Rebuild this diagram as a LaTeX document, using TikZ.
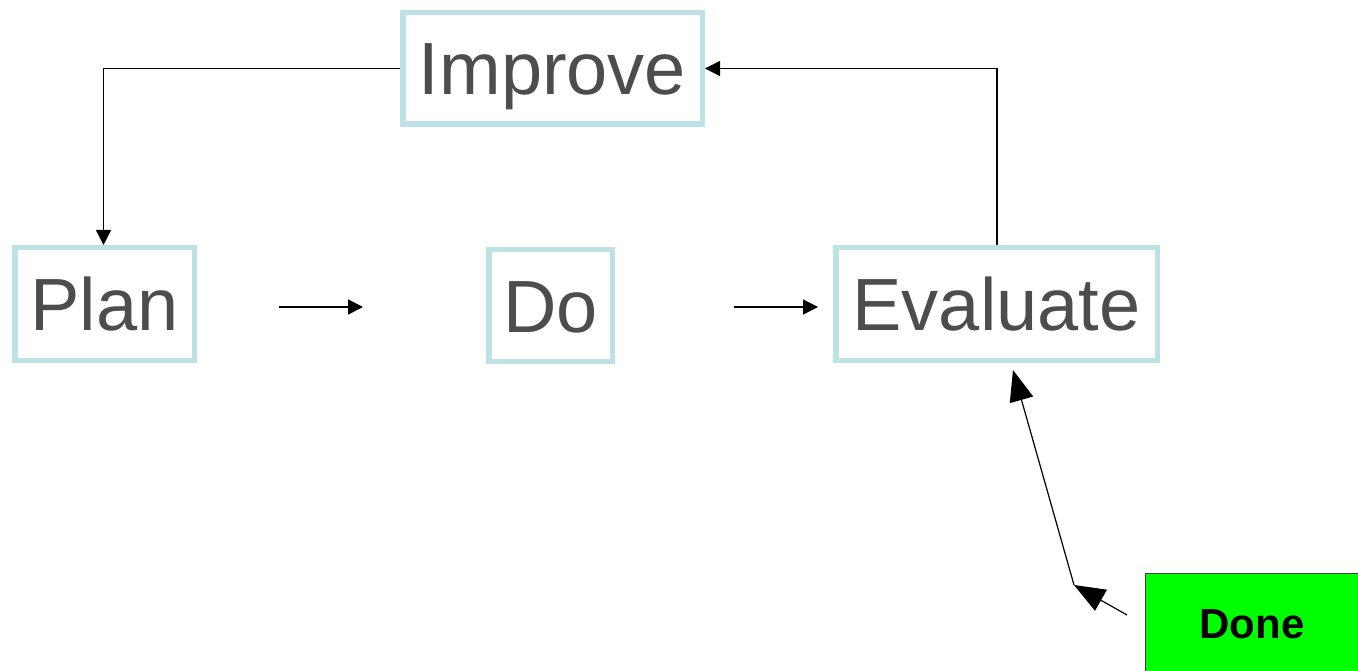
\documentclass[tikz,border=0pt]{standalone}
\usepackage{fontspec}
\setmainfont{Liberation Sans}
\usetikzlibrary{arrows.meta}
\definecolor{boxline}{HTML}{BDE1E4}
\definecolor{labeltext}{HTML}{4D4D4D}
\begin{document}
\begin{tikzpicture}[x=1pt,y=-1pt,
  stage/.style={draw=boxline, line width=5.5pt, fill=white, inner sep=0pt,
    text=labeltext, font=\fontsize{74}{74}\selectfont,
    text height=53pt, text depth=0pt},
  link/.style={line width=1.4pt, -{Triangle[length=15pt,width=15pt]}},
  biglink/.style={line width=1.2pt, -{Triangle[length=31pt,width=24pt]}},
  donebox/.style={draw=black!75, line width=1pt, fill=green, inner sep=0pt,
    font=\bfseries\fontsize{42}{42}\selectfont, text height=30pt, text depth=0pt}]
\useasboundingbox (0,0) rectangle (1358,671);

% the cycle stages
\node[stage, minimum width=299.5pt, minimum height=111.5pt] (improve) at (552.5,68.5) {Improve};
\node[stage, minimum width=179.5pt, minimum height=112.5pt] (plan) at (104.5,304) {Plan};
\node[stage, minimum width=123.5pt, minimum height=111.5pt] (do) at (550.5,305.5) {Do};
\node[stage, minimum width=321.5pt, minimum height=112.5pt] (evaluate) at (996.5,304) {Evaluate};

% finish marker
\node[donebox, minimum width=214pt, minimum height=100pt] (done) at (1252,623) {Done};

% free-standing arrows between the stages
\coordinate (a1s) at (279,307);
\coordinate (a1e) at (363,307);
\coordinate (a2s) at (734,307);
\coordinate (a2e) at (818,307);
\draw[link] (a1s) -- (a1e);
\draw[link] (a2s) -- (a2e);

% feedback loop
\draw[link] (improve.west) -| ([xshift=-0.5pt]plan.north west -| 104,0);
\draw[link] (evaluate.north -| 997,0) |- (improve.east);

% path from the finish marker
\coordinate (dstart) at (1127,615);
\coordinate (bend) at (1074,585);
\coordinate (evtip) at (1013,370);
\draw[biglink] (dstart) -- (bend);
\draw[biglink] (bend) -- (evtip);
\end{tikzpicture}
\end{document}
